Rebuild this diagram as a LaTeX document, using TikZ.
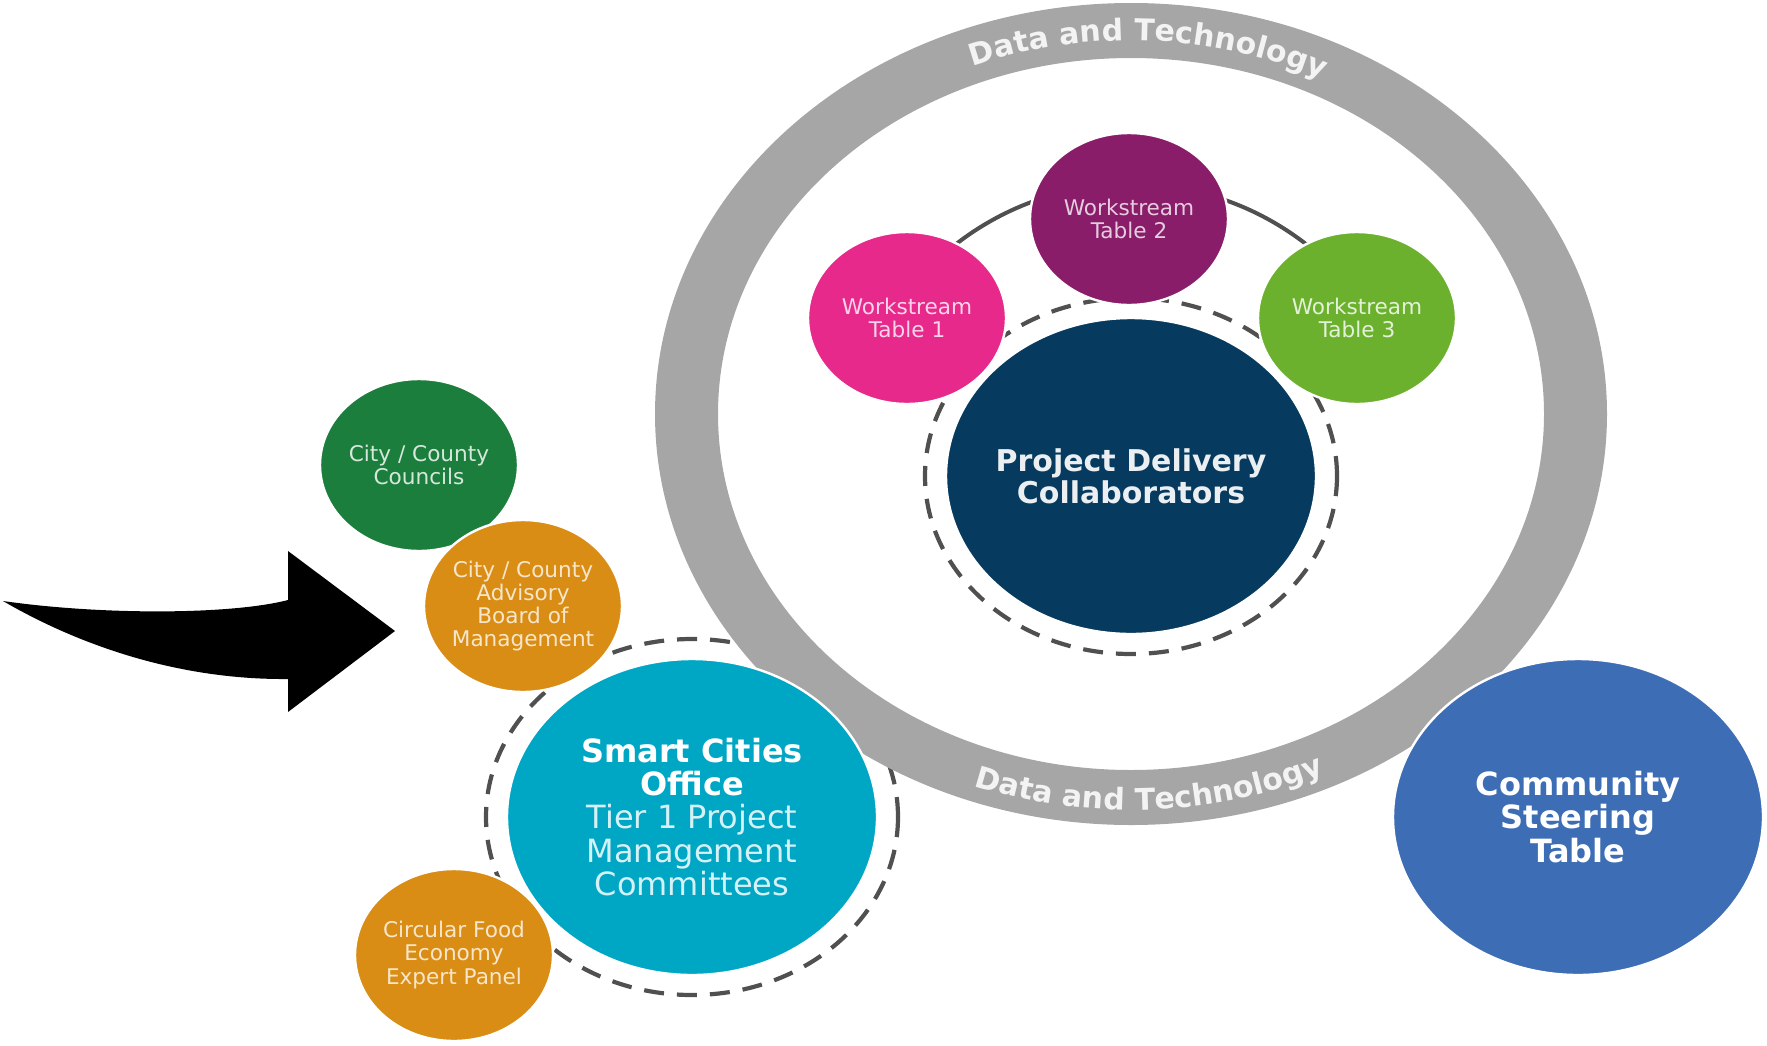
\documentclass[tikz,border=0pt]{standalone}
\usepackage{fontspec}
\setmainfont{DejaVu Sans}
\usetikzlibrary{shapes.geometric,decorations.text}

\definecolor{ringgray}{HTML}{A6A6A6}
\definecolor{ringword}{HTML}{F3F3F3}
\definecolor{dashgray}{HTML}{505050}
\definecolor{wspink}{HTML}{E6298A}
\definecolor{wspurple}{HTML}{8A1D6A}
\definecolor{wsgreen}{HTML}{6CB12D}
\definecolor{pdcnavy}{HTML}{063A5E}
\definecolor{scoteal}{HTML}{00A7C5}
\definecolor{cstblue}{HTML}{3D6DB5}
\definecolor{ccgreen}{HTML}{1C7E3C}
\definecolor{cborange}{HTML}{D98D15}

\newcommand{\ringfont}{\fontsize{15}{15}\selectfont\bfseries\color{ringword}}

\begin{document}
\begin{tikzpicture}[%
	x=0.5pt,y=-0.5pt,
	bubble/.style={ellipse,inner sep=-12pt,align=center,draw=white,line width=1.2pt},
	small/.style={bubble,minimum width=99pt,minimum height=86pt,
		font=\fontsize{10.8}{11.6}\selectfont},
	large/.style={bubble,minimum width=185pt,minimum height=158pt,
		font=\fontsize{16}{16.6}\selectfont},
	dashring/.style={draw=dashgray,line width=2.1pt,dash pattern=on 10pt off 6.5pt}]

	\useasboundingbox (0,0) rectangle (1767,1045);

	\coordinate	(ring)	at (1131,414);
	\coordinate	(pdc-c)	at (1131,476);
	\coordinate	(sco-c)	at (692,817);

	% dashed rings, under the circles
	\draw[dashring] (pdc-c) ellipse[x radius=103pt,y radius=89pt];
	\draw[dashring] (sco-c) ellipse[x radius=103pt,y radius=89pt];
	\draw[dashgray,line width=2pt] (pdc-c) ++(145:144pt and 146pt)
		arc[start angle=145,end angle=35,x radius=144pt,y radius=146pt];

	% grey band
	\fill[ringgray,even odd rule]
		(ring) ellipse[x radius=238pt,y radius=205.5pt]
		(ring) ellipse[x radius=206.5pt,y radius=178pt];
	\path[decorate,decoration={text along path,text align=center,
		text={|\ringfont|Data and Technology}}]
		(ring) ++(125:216.5pt and 186.75pt)
		arc[start angle=125,end angle=50,x radius=216.5pt,y radius=186.75pt];
	\path[decorate,decoration={text along path,text align=center,
		text={|\ringfont|Data and Technology}}]
		(ring) ++(-125:229pt and 198pt)
		arc[start angle=-125,end angle=-50,x radius=229pt,y radius=198pt];

	\node[small,fill=wspink,text=white!80!wspink]		(wt1)	at (907,318)	{Workstream\\Table 1};
	\node[small,fill=wspurple,text=white!78!wspurple]	(wt2)	at (1129,219)	{Workstream\\Table 2};
	\node[small,fill=wsgreen,text=white!82!wsgreen]		(wt3)	at (1357,318)	{Workstream\\Table 3};
	\node[large,fill=pdcnavy,text=white!92!pdcnavy,
		font=\fontsize{15}{16}\selectfont\bfseries]		(pdc)	at (pdc-c)		{Project Delivery\\Collaborators};

	\node[large,fill=scoteal,text=white!84!scoteal]		(sco)	at (sco-c)
		{\textcolor{white}{\textbf{Smart Cities}}\\\textcolor{white}{\textbf{Office}}\\Tier 1 Project\\Management\\Committees};
	\node[large,fill=cstblue,text=white,
		font=\fontsize{16}{16.6}\selectfont\bfseries]	(cst)	at (1578,817)	{Community\\Steering\\Table};

	\node[small,fill=ccgreen,text=white!82!ccgreen]		(ccc)	at (419,465)	{City / County\\Councils};
	\node[small,fill=cborange,text=white!78!cborange]	(cab)	at (523,606)	{City / County\\Advisory\\Board of\\Management};
	\node[small,fill=cborange,text=white!78!cborange]	(cfe)	at (454,955)	{Circular Food\\Economy\\Expert Panel};

	% curved block arrow
	\coordinate	(tail)	at (3,601);
	\coordinate	(tip)	at (395,631);
	\fill[black] (tail) .. controls (100,615) and (230,615) .. (288,600)
		-- (288,551) -- (tip) -- (288,712) -- (288,679)
		.. controls (170,680) and (70,640) .. (tail) -- cycle;

\end{tikzpicture}
\end{document}
